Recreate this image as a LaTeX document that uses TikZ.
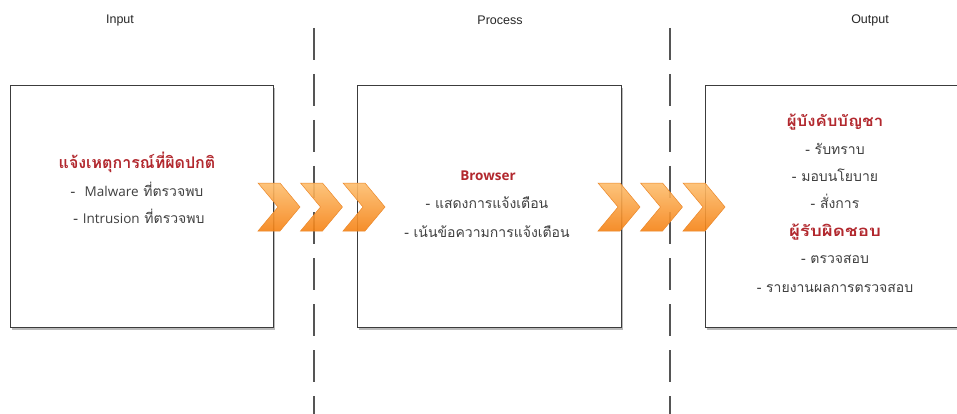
\documentclass[tikz,border=0pt]{standalone}
\usepackage{fontspec}
\setmainfont{Liberation Sans}
\newfontfamily\thaifont[Script=Thai]{Loma}
\newfontfamily\latinfont{Open Sans}
\usetikzlibrary{shadows}

\definecolor{framegray}{RGB}{60,60,60}
\definecolor{dashgray}{RGB}{85,85,85}
\definecolor{titlered}{RGB}{178,40,46}
\definecolor{bodygray}{RGB}{64,64,64}
\definecolor{chevtop}{RGB}{253,190,110}
\definecolor{chevbot}{RGB}{245,130,20}
\definecolor{chevedge}{RGB}{235,135,40}

% Latin words inside the Thai lines
\newcommand{\lw}[1]{{\latinfont\fontsize{13.5}{16}\selectfont #1}}

\tikzset{
  head/.style={font=\fontsize{12.5}{15}\selectfont, text=black!85, inner sep=0pt},
  panel/.style={draw=framegray, line width=1.1pt, fill=white, anchor=north west,
    inner sep=0pt,
    drop shadow={shadow xshift=1.5pt, shadow yshift=-2.5pt, opacity=0.45, fill=black!60}},
  divider/.style={draw=dashgray, line width=2.6pt, dash pattern=on 32pt off 14pt},
  ttl/.style={font=\thaifont\bfseries\fontsize{15}{17}\selectfont, text=titlered,
    anchor=base, inner sep=0pt},
  itm/.style={font=\thaifont\fontsize{14}{16}\selectfont, text=bodygray,
    anchor=base, inner sep=0pt},
  chevron/.pic={
    \shade[top color=chevtop, bottom color=chevbot, draw=chevedge, line width=0.5pt,
      fill opacity=0.9]
      (0,-24) -- (22,-24) -- (42,0) -- (22,24) -- (0,24) -- (20,0) -- cycle;
  }
}

\begin{document}
\begin{tikzpicture}[x=1pt, y=-1pt]
  \useasboundingbox (0,0) rectangle (957,414);

  % column headings
  \node[head] (hin)  at (120,20) {Input};
  \node[head] (hpro) at (500,20) {Process};
  \node[head] (hout) at (870,20) {Output};

  % the three panels
  \node[panel, minimum width=263pt, minimum height=242pt] (pin)  at (10,85)  {};
  \node[panel, minimum width=264pt, minimum height=242pt] (ppro) at (357,85) {};
  \node[panel, minimum width=270pt, minimum height=242pt] (pout) at (705,85) {};

  % stage dividers
  \coordinate (d1top) at (314,28);  \coordinate (d1bot) at (314,420);
  \coordinate (d2top) at (670,28);  \coordinate (d2bot) at (670,420);
  \draw[divider] (d1top) -- (d1bot);
  \draw[divider] (d2top) -- (d2bot);

  % flow chevrons
  \pic at (258,207)   {chevron};
  \pic at (300.5,207) {chevron};
  \pic at (343,207)   {chevron};
  \pic at (598,207)   {chevron};
  \pic at (640.5,207) {chevron};
  \pic at (683,207)   {chevron};

  % input panel text
  \node[ttl] (in1) at (137,168) {\fontsize{16}{18}\selectfont แจ้งเหตุการณ์ที่ผิดปกติ};
  \node[itm] (in2) at (137,196) {-\ \ \lw{Malware} ที่ตรวจพบ};
  \node[itm] (in3) at (139,223) {- \lw{Intrusion} ที่ตรวจพบ};

  % process panel text
  \node[ttl] (pr1) at (488,180) {\latinfont\fontsize{13.5}{16}\selectfont Browser};
  \node[itm] (pr2) at (487,208) {- แสดงการแจ้งเตือน};
  \node[itm] (pr3) at (487,237) {- เน้นข้อความการแจ้งเตือน};

  % output panel text
  \node[ttl] (ou1) at (835,127) {\scalebox{1.12}[1]{ผู้บังคับบัญชา}};
  \node[itm] (ou2) at (835,154) {- รับทราบ};
  \node[itm] (ou3) at (835,182) {- มอบนโยบาย};
  \node[itm] (ou4) at (835,208) {- สั่งการ};
  \node[ttl] (ou5) at (835,236) {\scalebox{1.25}[1]{ผู้รับผิดชอบ}};
  \node[itm] (ou6) at (835,263) {- ตรวจสอบ};
  \node[itm] (ou7) at (835,292) {- รายงานผลการตรวจสอบ};
\end{tikzpicture}
\end{document}
